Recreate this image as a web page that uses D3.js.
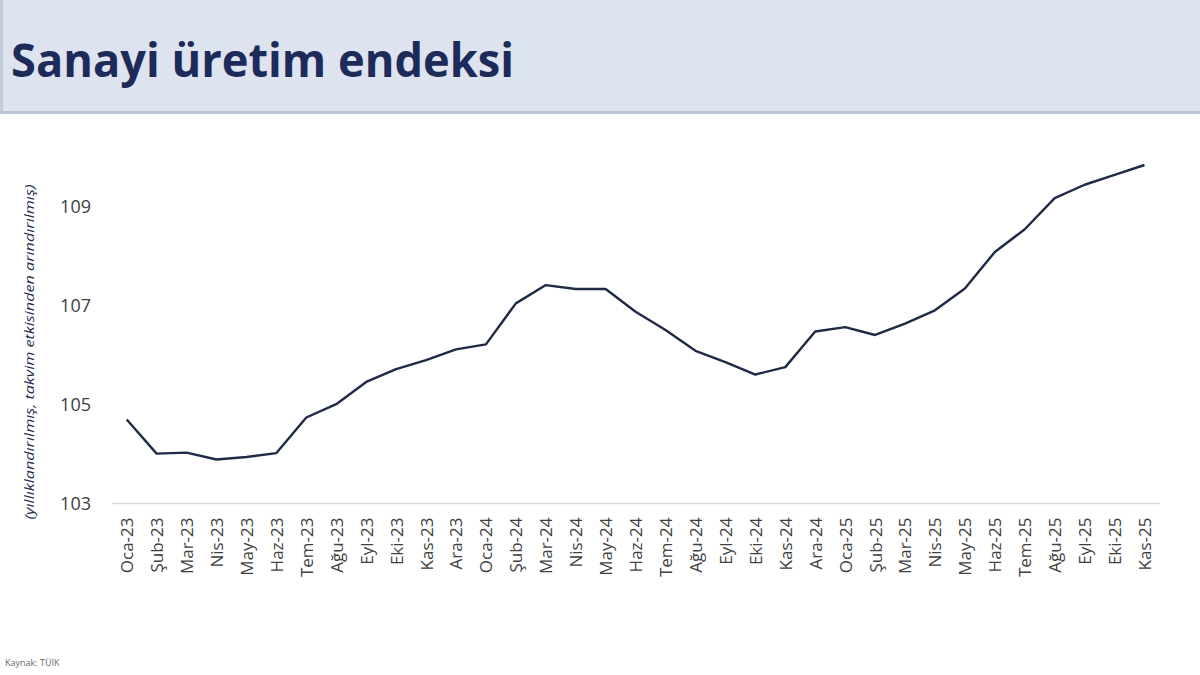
<!DOCTYPE html>
<html>
<head>
<meta charset="utf-8">
<script src="https://cdn.jsdelivr.net/npm/d3@7/dist/d3.min.js"></script>
<style>
  html, body { margin: 0; padding: 0; background: #ffffff; }
  svg { display: block; }
</style>
</head>
<body>
<svg id="chart" width="1200" height="675"></svg>
<script>
const months = ["Oca-23","Şub-23","Mar-23","Nis-23","May-23","Haz-23","Tem-23","Ağu-23","Eyl-23","Eki-23","Kas-23","Ara-23",
                "Oca-24","Şub-24","Mar-24","Nis-24","May-24","Haz-24","Tem-24","Ağu-24","Eyl-24","Eki-24","Kas-24","Ara-24",
                "Oca-25","Şub-25","Mar-25","Nis-25","May-25","Haz-25","Tem-25","Ağu-25","Eyl-25","Eki-25","Kas-25"];
const indexValues = [104.70,104.01,104.03,103.89,103.94,104.02,104.74,105.01,105.46,105.72,105.90,106.12,
                     106.22,107.05,107.42,107.34,107.34,106.88,106.51,106.09,105.86,105.61,105.76,106.48,
                     106.57,106.41,106.64,106.91,107.35,108.09,108.55,109.18,109.45,109.65,109.85];
const yTicks = [103,105,107,109];
const titleText = "Sanayi üretim endeksi";
const yAxisTitle = "(yıllıklandırılmış, takvim etkisinden arındırılmış)";
const sourceText = "Kaynak: TÜİK";

const svg = d3.select("#chart");

// header band
svg.append("rect").attr("x",0).attr("y",0).attr("width",1200).attr("height",113).attr("fill","#dde4ef");
svg.append("rect").attr("x",0).attr("y",111).attr("width",1200).attr("height",3).attr("fill","#b9c3d3");
svg.append("rect").attr("x",0).attr("y",0).attr("width",3).attr("height",113).attr("fill","#c3ccdb");

svg.append("text")
  .attr("x",11).attr("y",77)
  .attr("font-family","'Open Sans', sans-serif")
  .attr("font-weight",700)
  .attr("font-size",46)
  .attr("fill","#1c2b5a")
  .attr("textLength",503)
  .attr("lengthAdjust","spacingAndGlyphs")
  .text(titleText);

const x = d3.scalePoint().domain(months).range([126.7, 1144.5]);
const y = d3.scaleLinear().domain([103,109]).range([503.5, 207]);

// x axis baseline
svg.append("line")
  .attr("x1",112).attr("x2",1160)
  .attr("y1",y(103)).attr("y2",y(103))
  .attr("stroke","#d9d9d9").attr("stroke-width",1.3);

// y axis labels
const yAxis = d3.axisLeft(y).tickValues(yTicks).tickSize(0).tickPadding(0).tickFormat(d3.format("d"));
const gy = svg.append("g").attr("transform","translate(91,0)").call(yAxis);
gy.select(".domain").remove();
gy.selectAll("text")
  .attr("font-family","'Open Sans', sans-serif")
  .attr("font-size",18)
  .attr("fill","#404040");

// x axis labels
const xAxis = d3.axisBottom(x).tickSize(0).tickPadding(0);
const gx = svg.append("g").attr("transform",`translate(0,${y(103)})`).call(xAxis);
gx.select(".domain").remove();
gx.selectAll("text")
  .attr("font-family","'Open Sans', sans-serif")
  .attr("font-size",17)
  .attr("fill","#404040")
  .attr("text-anchor","end")
  .attr("dy","0.35em")
  .attr("transform","translate(0,14) rotate(-90)")
  .attr("x",0).attr("y",0);

// y axis title
svg.append("text")
  .attr("transform","translate(34,352) rotate(-90)")
  .attr("text-anchor","middle")
  .attr("font-family","'Open Sans', sans-serif")
  .attr("font-style","italic")
  .attr("font-size",12)
  .attr("fill","#1f2d50")
  .attr("textLength",335)
  .attr("lengthAdjust","spacingAndGlyphs")
  .text(yAxisTitle);

// line
const line = d3.line().x((d,i)=>x(months[i])).y(d=>y(d));
svg.append("path")
  .datum(indexValues)
  .attr("d",line)
  .attr("fill","none")
  .attr("stroke","#1f2a44")
  .attr("stroke-width",2.4)
  .attr("stroke-linejoin","round");

// source
svg.append("text")
  .attr("x",5).attr("y",666)
  .attr("font-family","'Open Sans', sans-serif")
  .attr("font-size",9)
  .attr("fill","#6b6b6b")
  .text(sourceText);
</script>
</body>
</html>
